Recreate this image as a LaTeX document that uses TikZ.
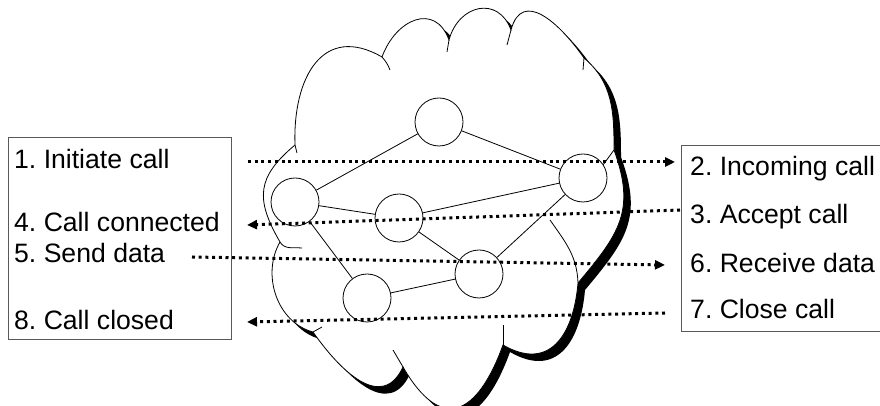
\documentclass[tikz,border=0pt]{standalone}
\usepackage{fontspec}
\setmainfont{Liberation Sans}
\usetikzlibrary{arrows.meta}

\newcommand{\cloudpath}{(295,261) to[out=92,in=150,looseness=1.4] (382,349)
  to[out=70,in=110,looseness=1.5] (449,366)
  to[out=75,in=110,looseness=1.5] (511,376)
  to[out=75,in=125,looseness=1.4] (584,348)
  to[out=-40,in=90] (614,256)
  to[out=-70,in=50,looseness=1.2] (578,123)
  to[out=-95,in=-30,looseness=1.4] (503,61)
  to[out=-110,in=-60,looseness=1.9] (403,39)
  to[out=-115,in=-55,looseness=1.3] (313,74)
  to[out=165,in=-120] (280,164)
  to[out=120,in=-140,looseness=1.3] (295,261) -- cycle}

\begin{document}
\frenchspacing
\begin{tikzpicture}[
  x=1pt, y=1pt,
  router/.style={draw, circle, fill=white, minimum size=48pt, inner sep=0pt, line width=0.8pt},
  link/.style={line width=0.8pt},
  puff/.style={line width=0.8pt},
  panel/.style={draw=black!65, line width=0.9pt},
  msg/.style={anchor=base west, inner sep=0pt, font=\fontsize{26.6}{32}\selectfont},
  signal/.style={line width=3pt, dash pattern=on 3pt off 3.7pt,
    -{Triangle[length=10pt, width=9pt]}}
]
\useasboundingbox (0,0) rectangle (880,406);

\fill[black, shift={(7,-7)}] \cloudpath;
\filldraw[puff, fill=white] \cloudpath;
\draw[puff] (295,261) -- (297,253);
\draw[puff] (382,349) to[bend left=10] (390,336);
\draw[puff] (449,366) -- (447,354);
\draw[puff] (511,376) -- (507,361);
\draw[puff] (584,348) -- (583,336);
\draw[puff] (614,256) -- (603,241);
\draw[puff] (280,164) to[out=-60,in=175] (302,158);
\draw[puff] (313,74) -- (322,79);
\draw[puff] (403,39) -- (393,56);
\draw[puff] (503,61) -- (503,81);
\draw[puff] (578,123) to[out=92,in=-55] (550,186);

\node[panel, minimum width=223pt, minimum height=202pt] (caller) at (119.5,168) {};
\node[panel, minimum width=240pt, minimum height=186pt] (callee) at (801,168) {};

\node[router] (rtop) at (439,284) {};
\node[router] (rright) at (583,228) {};
\node[router] (rleft) at (295,204) {};
\node[router] (rmid) at (399,188) {};
\node[router] (rlowr) at (479,132) {};
\node[router] (rlowl) at (367,108) {};
\draw[link] (rtop) -- (rleft);
\draw[link] (rtop) -- (rright);
\draw[link] (rleft) -- (rmid);
\draw[link] (rmid) -- (rright);
\draw[link] (rleft) -- (rlowl);
\draw[link] (rmid) -- (rlowr);
\draw[link] (rlowr) -- (rright);
\draw[link] (rlowl) -- (rlowr);

\node[msg] (initiate) at (14,237) {1. Initiate call};
\node[msg] (connected) at (14,174) {4. Call connected};
\node[msg] (send) at (14,143) {5. Send data};
\node[msg] (closed) at (14,76) {8. Call closed};
\node[msg] (incoming) at (690,230) {2. Incoming call};
\node[msg] (accept) at (690,182) {3. Accept call};
\node[msg] (receive) at (690,133) {6. Receive data};
\node[msg] (close) at (690,87) {7. Close call};

\coordinate (s1) at (248,244);
\coordinate (e1) at (675,244);
\coordinate (s2) at (680,196);
\coordinate (e2) at (247,181);
\coordinate (s3) at (192,149);
\coordinate (e3) at (665,141);
\coordinate (s4) at (665,93);
\coordinate (e4) at (247,84);
\draw[signal] (s1) -- (e1);
\draw[signal] (s2) -- (e2);
\draw[signal] (s3) -- (e3);
\draw[signal] (s4) -- (e4);
\end{tikzpicture}
\end{document}
